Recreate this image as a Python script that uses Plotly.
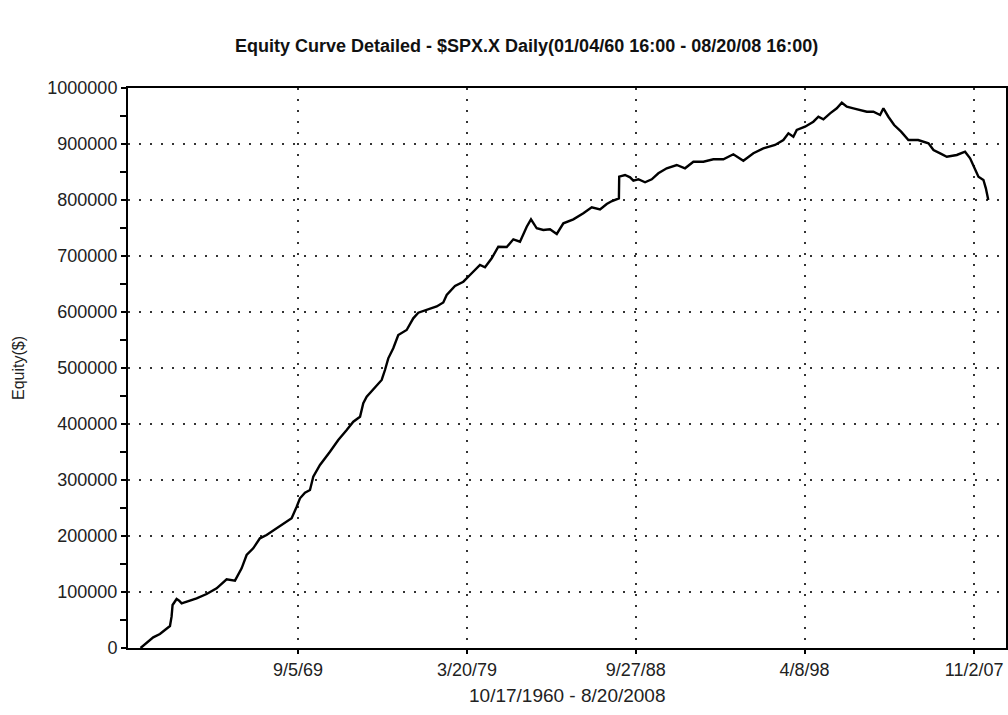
import plotly.graph_objects as go

dates = [
    "1960-10-17", "1961-02-20", "1961-07-05", "1961-11-20", "1962-04-08", "1962-06-15",
    "1962-07-18", "1962-08-08", "1962-10-30", "1962-12-22", "1963-02-10", "1963-05-24",
    "1963-12-16", "1964-07-10", "1965-02-01", "1965-08-26", "1966-02-14", "1966-07-01",
    "1966-10-12", "1967-02-25", "1967-07-13", "1967-11-28", "1968-06-22", "1969-01-15",
    "1969-04-27", "1969-08-09", "1969-10-16", "1970-01-27", "1970-05-10", "1970-07-17",
    "1970-12-02", "1971-06-26", "1971-12-14", "1972-06-05", "1972-10-19", "1973-03-07",
    "1973-05-13", "1973-07-22", "1974-01-09", "1974-05-27", "1974-08-03", "1974-10-10",
    "1975-01-21", "1975-05-04", "1975-10-24", "1976-03-08", "1976-06-20", "1976-12-10",
    "1977-07-04", "1977-11-17", "1978-01-26", "1978-07-16", "1979-01-04", "1979-05-21",
    "1979-12-13", "1980-03-26", "1980-08-11", "1980-12-25", "1981-06-17", "1981-10-31",
    "1982-03-17", "1982-08-03", "1982-10-30", "1983-02-25", "1983-07-10", "1983-11-25",
    "1984-04-13", "1984-08-27", "1985-03-21", "1985-10-13", "1986-04-04", "1986-09-22",
    "1987-02-07", "1987-05-27", "1987-10-16", "1987-10-22", "1988-02-19", "1988-06-02",
    "1988-08-09", "1988-11-20", "1989-04-07", "1989-08-23", "1990-01-06", "1990-06-28",
    "1991-01-20", "1991-07-10", "1991-12-29", "1992-07-22", "1993-02-13", "1993-09-07",
    "1994-04-01", "1994-10-24", "1995-05-19", "1995-12-10", "1996-08-08", "1997-01-26",
    "1997-05-10", "1997-08-20", "1997-10-29", "1998-04-18", "1998-10-06", "1999-01-18",
    "1999-05-01", "1999-09-16", "2000-02-01", "2000-05-15", "2000-08-26", "2001-01-09",
    "2001-05-27", "2001-10-12", "2002-02-25", "2002-07-13", "2002-09-19", "2002-12-30",
    "2003-04-28", "2003-09-19", "2004-02-16", "2004-09-04", "2005-04-05", "2005-07-17",
    "2005-12-02", "2006-04-18", "2006-11-10", "2007-04-29", "2007-08-11", "2007-11-23",
    "2008-01-30", "2008-05-12", "2008-07-01", "2008-08-20",
]

equity = [
    0, 9500, 19100, 25000, 35200, 39300,
    55900, 76800, 87500, 84500, 79800, 82700,
    88700, 96400, 106600, 122700, 120200, 142300,
    166100, 178000, 195900, 201800, 214300, 226800,
    231600, 252300, 267300, 277300, 282100, 305900,
    326800, 350500, 371400, 389300, 404100, 413000,
    437000, 448800, 465500, 478600, 496400, 517300,
    535200, 558900, 567900, 588700, 598700, 603600,
    609800, 617000, 630400, 646400, 654100, 666100,
    683900, 679800, 695900, 716600, 716000, 729800,
    725500, 752300, 765500, 749500, 746400, 747700,
    739300, 758400, 765500, 776200, 787000, 783000,
    792900, 798200, 803000, 841600, 844600, 840500,
    834500, 837000, 831600, 837000, 847700, 856600,
    862500, 856600, 868400, 868400, 872700, 872700,
    881600, 870200, 883400, 892300, 898200, 907100,
    919100, 913000, 925000, 930900, 939800, 948700,
    944100, 954800, 963700, 973700, 966600, 963700,
    960200, 957700, 957700, 951800, 963700, 948700,
    933900, 922000, 907100, 907100, 901200, 889300,
    883400, 877300, 880400, 886200, 874500, 853600,
    841600, 835700, 820900, 800000,
]

x_tick_dates = ["1969-09-05", "1979-03-20", "1988-09-27", "1998-04-08", "2007-11-02"]
x_tick_labels = ["9/5/69", "3/20/79", "9/27/88", "4/8/98", "11/2/07"]
y_tick_vals = [0, 100000, 200000, 300000, 400000, 500000, 600000, 700000, 800000, 900000, 1000000]
y_tick_labels = [str(v) for v in y_tick_vals]

title_text = "Equity Curve Detailed - $SPX.X Daily(01/04/60 16:00 - 08/20/08 16:00)"
x_title = "10/17/1960 - 8/20/2008"
y_title = "Equity($)"

FONT = "Arial, Liberation Sans, sans-serif"
TXT = "#222222"

fig = go.Figure()
fig.add_trace(go.Scatter(
    x=dates, y=equity, mode="lines",
    line=dict(color="#000000", width=2.4),
    hoverinfo="x+y", showlegend=False,
))

grid_common = dict(
    showgrid=True, gridcolor="#333333", gridwidth=1.5, griddash="1.5px,9.5px",
    showline=True, linecolor="#000000", linewidth=2, mirror=True,
    ticks="outside", tickcolor="#000000", tickwidth=1.5,
    zeroline=False, automargin=False,
    tickfont=dict(family=FONT, size=18, color=TXT),
)

fig.update_xaxes(
    type="date",
    range=["1960-02-01", "2009-08-20"],
    tickmode="array", tickvals=x_tick_dates, ticktext=x_tick_labels,
    ticklen=4,
    **grid_common,
)
fig.update_yaxes(
    range=[0, 1000000],
    tickmode="array", tickvals=y_tick_vals, ticktext=y_tick_labels,
    ticklen=5,
    minor=dict(tickmode="linear", tick0=50000, dtick=100000, ticks="outside",
               ticklen=6, tickcolor="#000000", showgrid=False),
    **grid_common,
)

fig.add_annotation(
    text="<b>" + title_text + "</b>",
    xref="paper", yref="paper", x=0.4544, y=1.075,
    xanchor="center", yanchor="middle", showarrow=False,
    font=dict(family=FONT, size=18, color="#111111"),
)
fig.add_annotation(
    text=x_title, xref="paper", yref="paper", x=0.5, y=-0.084,
    xanchor="center", yanchor="middle", showarrow=False,
    font=dict(family=FONT, size=19, color=TXT),
)
fig.add_annotation(
    text=y_title, xref="paper", yref="paper", x=-0.1253, y=0.5,
    xanchor="center", yanchor="middle", showarrow=False, textangle=-90,
    font=dict(family=FONT, size=16, color=TXT),
)

fig.update_layout(
    width=1008, height=715,
    margin=dict(l=128, r=2, t=88, b=67),
    paper_bgcolor="#ffffff", plot_bgcolor="#ffffff",
)

fig.write_html(
    "out.html",
    config={"displayModeBar": False},
    post_script="document.body.style.margin='0';document.body.style.overflow='hidden';",
)
